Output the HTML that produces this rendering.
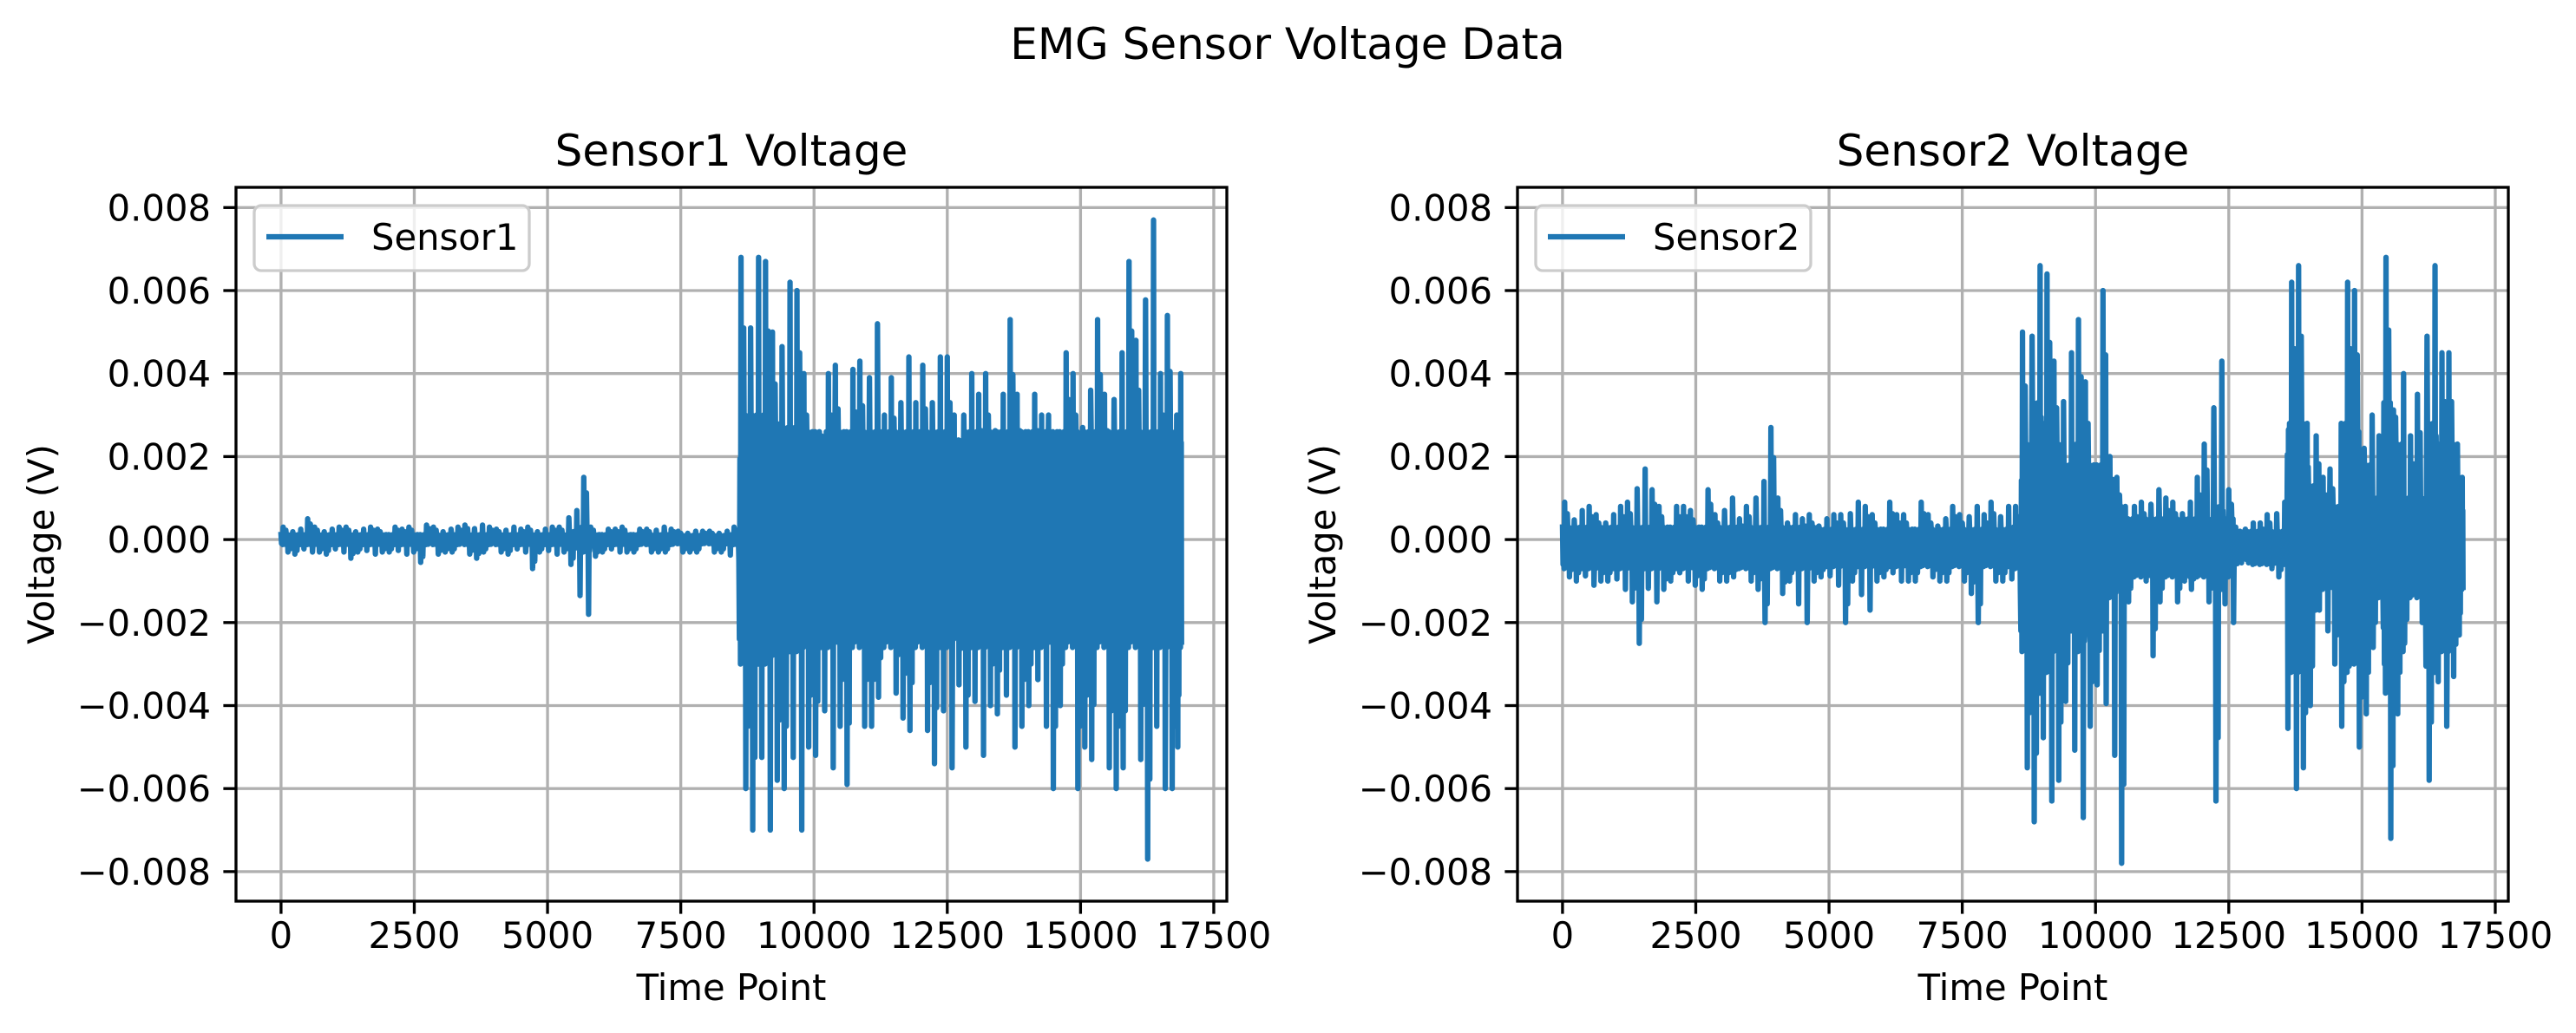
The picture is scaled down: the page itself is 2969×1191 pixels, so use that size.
<!DOCTYPE html>
<html><head><meta charset="utf-8"><title>EMG Sensor Voltage Data</title>
<style>html,body{margin:0;padding:0;background:#fff;}svg{display:block;font-family:"DejaVu Sans","Liberation Sans",sans-serif;}</style>
</head><body>
<svg id="fig" width="2969" height="1191" viewBox="0 0 2969 1191" xmlns="http://www.w3.org/2000/svg">
<rect x="0" y="0" width="2969" height="1191" fill="#fff"/>
<text x="1484" y="68" font-size="50" text-anchor="middle">EMG Sensor Voltage Data</text>
</svg>
<script>
// time bucket size (time points) and values in millivolts (x1e-3 V)
const bucketSize = 200;
const totalPoints = 16900;
const xTicks = [0, 2500, 5000, 7500, 10000, 12500, 15000, 17500];
const xTickLabels = ["0","2500","5000","7500","10000","12500","15000","17500"];
const yTicks = [0.008, 0.006, 0.004, 0.002, 0, -0.002, -0.004, -0.006, -0.008];
const yTickLabels = ["0.008","0.006","0.004","0.002","0.000","\u22120.002","\u22120.004","\u22120.006","\u22120.008"];

const s1Hi = [0.3,0.25,0.5,0.3,0.25,0.3,0.3,0.25,0.3,0.25,0.3,0.25,0.3,0.35,0.3,0.25,0.3,0.35,0.35,0.3,0.25,0.3,0.25,0.3,0.25,0.3,0.3,0.7,1.5,0.3,0.25,0.25,0.3,0.25,0.25,0.3,0.25,0.2,0.2,0.2,0.2,0.2,0.3,
 6.8,6.8,6.7,5.0,6.2,6.0,4.0,2.5,4.0,4.2,4.1,4.3,5.2,3.0,3.9,4.4,3.3,4.2,4.4,4.4,3.0,4.0,3.5,4.0,3.5,5.3,3.5,3.5,3.0,3.0,4.5,4.0,3.6,5.3,3.5,4.5,6.7,4.8,7.7,4.0,5.4,4.0];
const s1Lo = [-0.3,-0.35,-0.3,-0.3,-0.35,-0.3,-0.45,-0.3,-0.35,-0.3,-0.3,-0.35,-0.3,-0.55,-0.35,-0.3,-0.3,-0.35,-0.45,-0.3,-0.3,-0.35,-0.3,-0.7,-0.3,-0.35,-0.3,-0.6,-1.8,-0.4,-0.3,-0.3,-0.3,-0.3,-0.3,-0.3,-0.3,-0.3,-0.3,-0.3,-0.3,-0.3,-0.5,
 -6.0,-7.0,-7.0,-5.8,-6.0,-7.0,-5.0,-5.2,-5.5,-4.5,-5.9,-4.5,-4.5,-3.8,-3.7,-4.3,-4.6,-4.6,-5.4,-5.5,-3.5,-5.0,-5.2,-4.0,-4.2,-5.0,-4.5,-4.0,-4.5,-6.0,-4.0,-6.0,-5.0,-5.3,-5.5,-6.0,-5.5,-5.3,-7.7,-6.0,-6.0,-5.0];
const s1Core = [0.12,0.12,0.12,0.12,0.12,0.12,0.12,0.12,0.12,0.12,0.12,0.12,0.12,0.12,0.12,0.12,0.12,0.12,0.12,0.12,0.12,0.12,0.12,0.12,0.12,0.12,0.12,0.2,0.3,0.12,0.12,0.12,0.12,0.12,0.12,0.12,0.12,0.1,0.1,0.1,0.1,0.1,0.12,
 3.0,3.0,3.0,2.8,2.7,2.7,2.6,2.6,2.6,2.6,2.6,2.6,2.6,2.6,2.6,2.6,2.6,2.6,2.6,2.6,2.4,2.6,2.6,2.6,2.6,2.6,2.6,2.6,2.6,2.6,2.6,2.6,2.6,2.6,2.6,2.6,2.6,2.6,2.6,2.6,2.6,2.6];
const s1Center = 0;

const s2Hi = [0.9,0.7,0.8,0.6,0.6,0.8,0.9,1.7,1.2,0.8,0.8,0.8,0.7,1.2,0.6,1.0,0.5,0.8,1.4,2.7,1.0,0.6,0.5,0.6,0.5,0.6,0.6,0.9,0.8,0.6,0.9,0.6,0.6,0.9,0.6,0.5,0.8,0.6,0.8,0.6,0.9,0.8,0.8,
 5.0,6.6,6.4,4.3,4.5,5.3,3.8,6.0,2.0,1.5,0.8,0.9,1.2,1.0,0.9,0.9,1.5,2.3,4.3,1.2,0.3,0.4,0.4,0.6,0.9,6.2,6.6,2.5,1.5,1.7,6.2,6.0,3.0,2.5,6.8,4.0,2.5,3.5,6.6,4.5,4.5,1.5];
const s2Lo = [-0.9,-1.0,-1.1,-1.0,-1.0,-1.2,-1.5,-2.5,-1.5,-1.2,-1.0,-1.0,-1.1,-1.2,-1.0,-1.0,-0.9,-1.0,-1.2,-2.0,-1.3,-1.0,-2.0,-1.0,-0.9,-1.1,-2.0,-1.0,-1.7,-1.0,-0.9,-1.0,-1.0,-1.0,-0.9,-1.0,-1.0,-1.0,-1.3,-2.0,-1.0,-1.0,-1.2,
 -5.5,-6.8,-6.3,-5.8,-3.9,-6.7,-4.5,-3.5,-5.2,-7.8,-1.5,-1.0,-2.8,-1.5,-1.5,-1.0,-1.2,-1.5,-6.3,-2.0,-0.4,-0.4,-0.5,-0.7,-0.9,-6.0,-5.5,-4.0,-2.2,-3.0,-4.5,-5.0,-4.2,-2.6,-7.2,-4.2,-2.5,-2.0,-5.8,-4.5,-3.3,-2.3];
const s2Core = [0.5,0.5,0.5,0.5,0.5,0.5,0.5,0.5,0.5,0.5,0.5,0.5,0.5,0.5,0.5,0.5,0.5,0.5,0.5,0.5,0.5,0.5,0.5,0.5,0.45,0.45,0.45,0.45,0.45,0.45,0.45,0.45,0.45,0.45,0.45,0.45,0.45,0.45,0.45,0.45,0.45,0.45,0.5,
 2.5,3.5,3.0,2.5,2.0,2.5,2.0,2.0,1.2,1.0,0.7,0.7,0.7,0.7,0.7,0.7,0.7,0.7,1.0,0.7,0.4,0.4,0.4,0.4,0.4,3.0,3.0,1.5,1.0,1.0,3.0,2.8,2.0,1.2,3.5,2.5,1.2,1.2,3.0,2.5,2.5,1.0];
const s2Center = -0.2;

const NS = "http://www.w3.org/2000/svg";
const svg = document.getElementById('fig');
function mk(tag, attrs, parent){const e=document.createElementNS(NS,tag);for(const k in attrs)e.setAttribute(k,attrs[k]);(parent||svg).appendChild(e);return e;}

const axTop = 216, axBottom = 1039, axW = 1142;
const xMin = -845, xMax = 17745;
const yZero = 622.1, pxPerMv = 47.85;
// within-bucket shape (rendering texture, fractions of bucket core / extremes)
const subShape = [1, -0.8, 0.65, -1, 'H', -0.6, 0.9, -0.95, 0.5, 'h', 0.8, -0.7, 1, 'L', 0.6, -0.9, 0.75, 'l', 0.95, -0.55];

function drawPanel(left, title, label, hi, lo, core, center, key){
  const g = mk('g', {});
  
  
  const xs = t => left + (t - xMin) / (xMax - xMin) * axW;
  const ys = v => yZero - v * 1000 * pxPerMv;
  xTicks.forEach((t, i) => {
    const l = mk('line', {x1: xs(t), x2: xs(t), y1: axTop, y2: axBottom, stroke: '#b0b0b0', 'stroke-width': 3.33}, g);
    
    
    const tk = mk('line', {x1: xs(t), x2: xs(t), y1: axBottom, y2: axBottom + 14.6, stroke: '#000', 'stroke-width': 3.33}, g);
    
    
    const tx = mk('text', {x: xs(t), y: 1093, 'font-size': 41.7, 'text-anchor': 'middle'}, g);
    tx.textContent = xTickLabels[i];
    
    
  });
  yTicks.forEach((v, i) => {
    const l = mk('line', {x1: left, x2: left + axW, y1: ys(v), y2: ys(v), stroke: '#b0b0b0', 'stroke-width': 3.33}, g);
    
    
    const tk = mk('line', {x1: left - 14.6, x2: left, y1: ys(v), y2: ys(v), stroke: '#000', 'stroke-width': 3.33}, g);
    
    
    const tx = mk('text', {x: left - 29, y: ys(v) + 15, 'font-size': 41.7, 'text-anchor': 'end'}, g);
    tx.textContent = yTickLabels[i];
    
    
  });
  const pts = [];
  const n = subShape.length;
  for (let i = 0; i < hi.length; i++) {
    const t0 = i * bucketSize;
    const w = Math.min(bucketSize, totalPoints - t0);
    const shift = (i * 7) % n;
    for (let k = 0; k < n; k++) {
      const t = t0 + w * k / n;
      const s = subShape[(k + shift) % n];
      let v;
      if (s === 'H') v = hi[i];
      else if (s === 'L') v = lo[i];
      else if (s === 'h') v = center + (hi[i] - center) * 0.75;
      else if (s === 'l') v = center + (lo[i] - center) * 0.75;
      else v = center + s * core[i];
      pts.push(xs(t).toFixed(2) + ',' + ys(v / 1000).toFixed(2));
    }
  }
  const pl = mk('polyline', {points: pts.join(' '), fill: 'none', stroke: '#1f77b4', 'stroke-width': 6.25, 'stroke-linejoin': 'round', 'stroke-linecap': 'square'}, g);
  
  
  const sp = mk('rect', {x: left, y: axTop, width: axW, height: axBottom - axTop, fill: 'none', stroke: '#000', 'stroke-width': 3.33}, g);
  
  
  const tt = mk('text', {x: left + axW / 2, y: 191, 'font-size': 50, 'text-anchor': 'middle'}, g);
  tt.textContent = title;
  
  
  const xl = mk('text', {x: left + axW / 2, y: 1153, 'font-size': 41.7, 'text-anchor': 'middle'}, g);
  xl.textContent = 'Time Point';
  
  
  const yl = mk('text', {x: 0, y: 0, 'font-size': 41.7, 'text-anchor': 'middle', transform: 'translate(' + (left - 210) + ',' + ((axTop + axBottom) / 2) + ') rotate(-90)'}, g);
  yl.textContent = 'Voltage (V)';
  
  
  const lg = mk('g', {}, g);
  
  
  mk('rect', {x: left + 21, y: 237, width: 317, height: 75, rx: 8, fill: '#fff', 'fill-opacity': 0.8, stroke: '#cccccc', 'stroke-width': 3.33}, lg);
  const ll = mk('line', {x1: left + 35, x2: left + 124, y1: 273, y2: 273, stroke: '#1f77b4', 'stroke-width': 6.25}, lg);
  
  
  const lt = mk('text', {x: left + 156, y: 288, 'font-size': 41.7}, lg);
  lt.textContent = label;
  
  
}
drawPanel(272, 'Sensor1 Voltage', 'Sensor1', s1Hi, s1Lo, s1Core, s1Center, 'sensor1');
drawPanel(1749, 'Sensor2 Voltage', 'Sensor2', s2Hi, s2Lo, s2Core, s2Center, 'sensor2');
</script>
</body></html>
